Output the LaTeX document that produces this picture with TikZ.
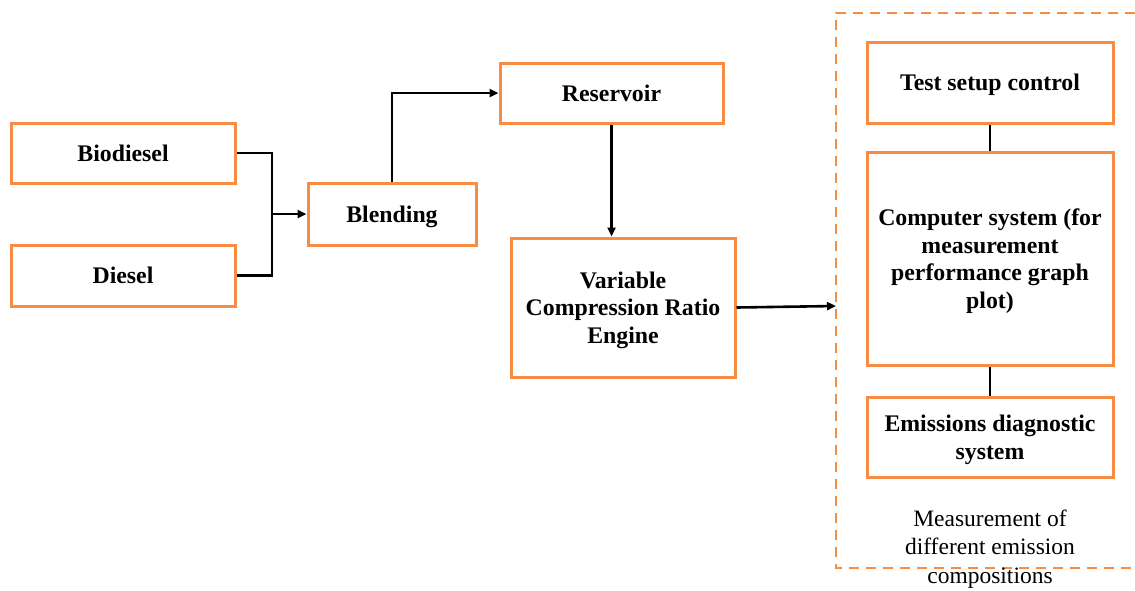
\documentclass[tikz,border=0pt]{standalone}
\usepackage{fontspec}
\setmainfont{Liberation Serif}
\usetikzlibrary{arrows.meta}
\definecolor{boxorange}{RGB}{247,140,66}
\tikzset{
  blockbox/.style={draw=boxorange, line width=3pt, fill=white, align=center,
    font=\fontsize{23.8}{27.5}\selectfont\bfseries, inner sep=2pt, text depth=0pt},
  link/.style={draw=black, line width=2.6pt},
  flow/.style={link, -{Triangle[length=9pt,width=8pt]}},
  groupframe/.style={draw=boxorange, line width=2.6pt, dash pattern=on 10pt off 7pt},
  note/.style={align=center, font=\fontsize{23.5}{28.5}\selectfont}
}
\begin{document}
\begin{tikzpicture}[x=1pt,y=-1pt]
\useasboundingbox (0,0) rectangle (1135,590);

% fuel preparation chain
\node[blockbox, minimum width=224pt, minimum height=60pt] (bio) at (123,153) {Biodiesel};
\node[blockbox, minimum width=224pt, minimum height=61pt] (dsl) at (123,275.5) {Diesel};
\node[blockbox, minimum width=168pt, minimum height=62pt] (blend) at (392,214) {Blending};
\node[blockbox, minimum width=223pt, minimum height=60pt] (res) at (611.5,93) {Reservoir};
\node[blockbox, minimum width=224pt, minimum height=139pt] (eng) at (623,307.5)
  {Variable\\Compression Ratio\\Engine};

% measurement group
\draw[groupframe] (1135,13) -- (836,13) -- (836,568) -- (1135,568);
\coordinate (frameleft) at (836,306);
\node[blockbox, minimum width=246pt, minimum height=81pt] (ctrl) at (990,82.5) {Test setup control};
\node[blockbox, minimum width=246pt, minimum height=213pt] (comp) at (990,258.5)
  {Computer system (for\\measurement\\performance graph\\plot)};
\node[blockbox, minimum width=246pt, minimum height=80pt] (emis) at (990,437)
  {Emissions diagnostic\\system};
\node[note] (cap) at (990,549) {Measurement of\\different emission\\compositions};

% connectors
\coordinate (merge) at (272,214);
\draw[link] (bio.east) -| (merge) |- (dsl.east);
\draw[flow] (merge) -- (blend.west);
\draw[flow] (blend.north) |- (res.west);
\draw[flow] (res.south) -- (res.south |- eng.north);
\draw[flow] (eng.east) -- (frameleft);
\draw[link] (ctrl.south) -- (comp.north);
\draw[link] (comp.south) -- (emis.north);
\end{tikzpicture}
\end{document}
